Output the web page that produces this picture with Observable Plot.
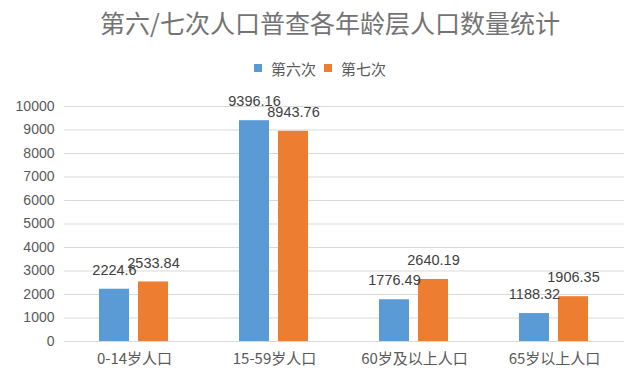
<!DOCTYPE html>
<html>
<head>
<meta charset="utf-8">
<script src="https://cdn.jsdelivr.net/npm/d3@7"></script>
<script src="https://cdn.jsdelivr.net/npm/@observablehq/plot@0.6"></script>
<style>
  html, body { margin: 0; padding: 0; background: #ffffff; }
  #wrap { width: 640px; height: 385px; overflow: hidden; font-family: "Noto Sans CJK SC", "Liberation Sans", sans-serif; }
  #title { height: 44px; line-height: 44px; text-align: center; font-size: 25px; color: #737373; padding-left: 20px; box-sizing: border-box; white-space: nowrap; }
  #legend { height: 48px; display: flex; justify-content: center; align-items: center; font-size: 15px; color: #595959; gap: 0; }
  .item { display: flex; align-items: center; margin: 0 4px; }
  .sw { width: 8px; height: 8px; display: inline-block; margin-right: 9px; }
</style>
</head>
<body>
<div id="wrap">
  <div id="title">第六/七次人口普查各年龄层人口数量统计</div>
  <div id="legend"></div>
  <div id="chart"></div>
</div>
<script>
const categories = ["0-14岁人口", "15-59岁人口", "60岁及以上人口", "65岁以上人口"];
const series = ["第六次", "第七次"];
const sixth = [2224.6, 9396.16, 1776.49, 1188.32];
const seventh = [2533.84, 8943.76, 2640.19, 1906.35];
const colors = ["#5B9BD5", "#ED7D31"];
const yTicks = [0, 1000, 2000, 3000, 4000, 5000, 6000, 7000, 8000, 9000, 10000];

const data = [];
categories.forEach((c, i) => {
  data.push({category: c, series: series[0], value: sixth[i]});
  data.push({category: c, series: series[1], value: seventh[i]});
});

// legend
const legend = document.getElementById("legend");
series.forEach((s, i) => {
  const it = document.createElement("span");
  it.className = "item";
  const sw = document.createElement("span");
  sw.className = "sw";
  sw.style.background = colors[i];
  it.appendChild(sw);
  it.appendChild(document.createTextNode(s));
  legend.appendChild(it);
});

const chart = Plot.plot({
  width: 640,
  height: 293,
  marginTop: 14,
  marginBottom: 44,
  marginLeft: 63,
  marginRight: 16,
  style: {fontFamily: "'Liberation Sans', 'Noto Sans CJK SC', sans-serif", fontSize: "14px", color: "#595959", background: "transparent"},
  fx: {domain: categories, padding: 0, label: null},
  x: {domain: series, paddingInner: 0.225, paddingOuter: 0.866, axis: null},
  y: {domain: [0, 10000], label: null},
  color: {domain: series, range: colors},
  marks: [
    Plot.ruleY(yTicks, {stroke: "#D9D9D9", strokeWidth: 1}),
    Plot.axisY({ticks: yTicks, tickSize: 0, tickPadding: 10, tickFormat: d => String(d), fill: "#595959", fontSize: 14, label: null}),
    Plot.axisFx({anchor: "bottom", tickSize: 0, tickPadding: 12, fill: "#595959", fontSize: 15, fontFamily: "'Noto Sans CJK SC', sans-serif", label: null}),
    Plot.barY(data, {fx: "category", x: "series", y: "value", fill: "series"}),
    Plot.text(data, {fx: "category", x: "series", y: "value", text: d => String(d.value), lineAnchor: "middle", dy: -19, fill: "#404040", fontSize: 14.5})
  ]
});
document.getElementById("chart").appendChild(chart);
</script>
</body>
</html>
